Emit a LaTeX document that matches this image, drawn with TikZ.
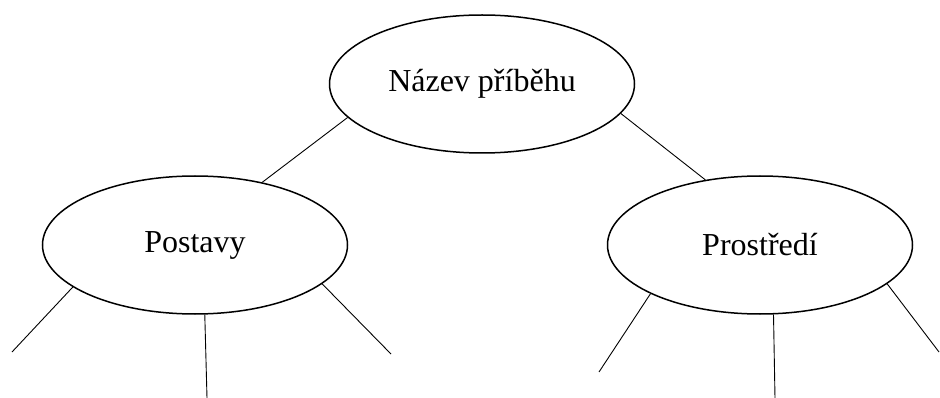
\documentclass[tikz,border=0pt]{standalone}
\usepackage{fontspec}
\setmainfont{Liberation Serif}
\usetikzlibrary{shapes.geometric}

\begin{document}
\begin{tikzpicture}[x=1pt,y=-1pt,
        bubble/.style={ellipse,draw,line width=1.5pt,inner sep=0pt,
                minimum width=305pt,minimum height=138pt,font=\fontsize{32}{38}\selectfont},
        twig/.style={line width=0.9pt}]
        \useasboundingbox (0,0) rectangle (940,398);
        \node[bubble] (nazev) at (482,84) {Název příběhu};
        \node[bubble] (postavy) at (195,245) {Postavy};
        \node[bubble] (prostredi) at (760,245) {Prostředí};
        \coordinate (p1) at (12,352);
        \coordinate (p2) at (207,398);
        \coordinate (p3) at (391,354);
        \coordinate (r1) at (599,372);
        \coordinate (r2) at (775,398);
        \coordinate (r3) at (939,352);
        \draw[twig] (nazev.194) -- (postavy.43);
        \draw[twig] (nazev.348) -- (prostredi.130);
        \draw[twig] (postavy.199) -- (p1);
        \draw[twig] (postavy.278) -- (p2);
        \draw[twig] (postavy.343) -- (p3);
        \draw[twig] (prostredi.204) -- (r1);
        \draw[twig] (prostredi.281) -- (r2);
        \draw[twig] (prostredi.343) -- (r3);
\end{tikzpicture}
\end{document}
